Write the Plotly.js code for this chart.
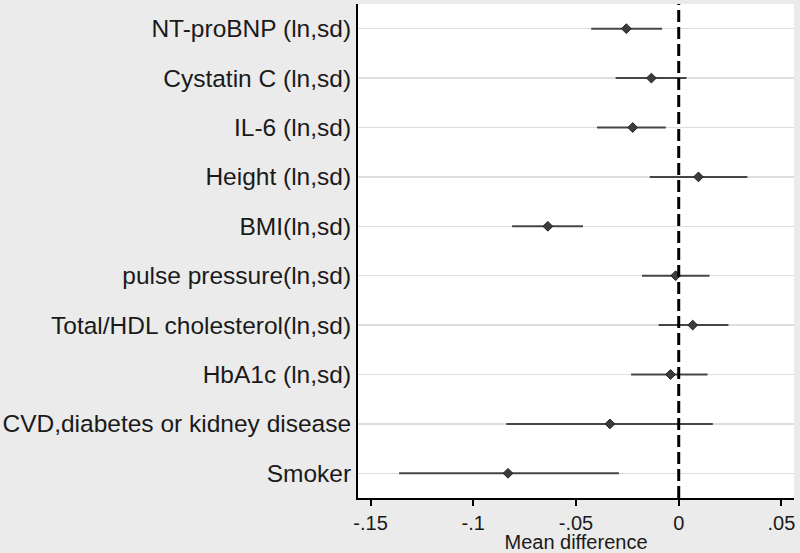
<!DOCTYPE html>
<html>
<head>
<meta charset="utf-8">
<script src="https://cdn.plot.ly/plotly-3.0.1.min.js"></script>
<style>
  html, body { margin: 0; padding: 0; background: #ebebeb; }
  #chart { width: 800px; height: 553px; }
</style>
</head>
<body>
<div id="chart"></div>
<script>
// Data
const labels = [
  "NT-proBNP (ln,sd)",
  "Cystatin C (ln,sd)",
  "IL-6 (ln,sd)",
  "Height (ln,sd)",
  "BMI(ln,sd)",
  "pulse pressure(ln,sd)",
  "Total/HDL cholesterol(ln,sd)",
  "HbA1c (ln,sd)",
  "CVD,diabetes or kidney disease",
  "Smoker"
];
const estimate = [-0.0255, -0.0133, -0.0224, 0.0096, -0.0637, -0.0015, 0.0068, -0.0040, -0.0335, -0.0831];
const lower    = [-0.0426, -0.0307, -0.0398, -0.0141, -0.0811, -0.0179, -0.0098, -0.0232, -0.0839, -0.1361];
const upper    = [-0.0081, 0.0038, -0.0063, 0.0334, -0.0466, 0.0150, 0.0242, 0.0140, 0.0166, -0.0291];
const xTickVals = [-0.15, -0.1, -0.05, 0, 0.05];
const xTickText = ["-.15", "-.1", "-.05", "0", ".05"];
const refLine = 0;

const trace = {
  type: "scatter",
  mode: "markers",
  x: estimate,
  y: labels,
  error_x: {
    type: "data",
    symmetric: false,
    array: upper.map((u, i) => u - estimate[i]),
    arrayminus: lower.map((l, i) => estimate[i] - l),
    width: 0,
    thickness: 2,
    color: "#464646"
  },
  marker: {
    symbol: "diamond",
    size: 7.5,
    color: "#3c3c3c",
    line: { width: 1, color: "#222" }
  },
  hoverinfo: "x+y",
  showlegend: false
};

const layout = {
  width: 800,
  height: 553,
  paper_bgcolor: "#ebebeb",
  plot_bgcolor: "#ffffff",
  margin: { l: 358, r: 6, t: 4, b: 55 },
  font: { family: "Liberation Sans, Arial, sans-serif", color: "#1a1a1a" },
  xaxis: {
    range: [-0.1561, 0.0561],
    tickmode: "array",
    tickvals: xTickVals,
    ticktext: xTickText,
    ticks: "outside",
    ticklen: 6,
    tickwidth: 2,
    tickcolor: "#000",
    tickfont: { size: 20 },
    showline: true,
    linecolor: "#000",
    linewidth: 2,
    showgrid: false,
    zeroline: false,
    title: { text: "Mean difference", font: { size: 20 }, standoff: 0 }
  },
  yaxis: {
    type: "category",
    categoryorder: "array",
    categoryarray: labels,
    range: [9.5, -0.5],
    ticks: "",
    tickfont: { size: 24.5 },
    ticklabelstandoff: 0,
    showline: true,
    linecolor: "#000",
    linewidth: 2,
    showgrid: true,
    gridcolor: "#dedede",
    gridwidth: 1.5,
    zeroline: false
  },
  shapes: [{
    type: "line",
    xref: "x", yref: "paper",
    x0: refLine, x1: refLine, y0: 0, y1: 1,
    line: { color: "#000", width: 3, dash: "12px,5px" },
    layer: "above"
  }]
};

Plotly.newPlot("chart", [trace], layout, { displayModeBar: false, staticPlot: true });
</script>
</body>
</html>
